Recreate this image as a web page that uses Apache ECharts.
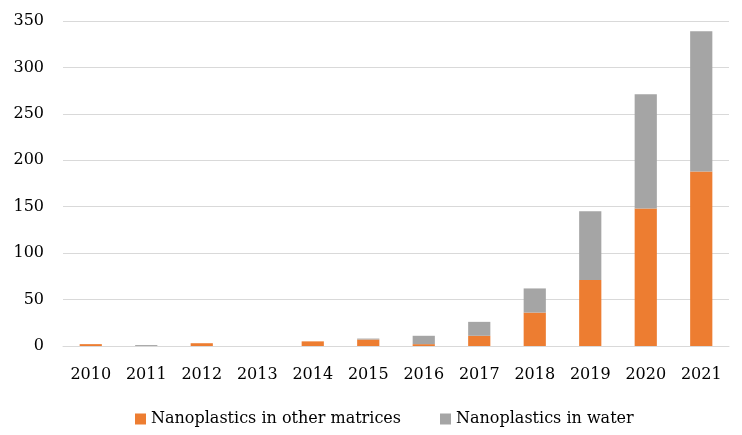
<!DOCTYPE html>
<html><head><meta charset="utf-8">
<script src="https://cdn.jsdelivr.net/npm/echarts@6/dist/echarts.min.js"></script>
<style>html,body{margin:0;padding:0;background:#fff}#c{width:742px;height:435px}</style>
</head><body><div id="c"></div>
<script>
const years = ['2010','2011','2012','2013','2014','2015','2016','2017','2018','2019','2020','2021'];
const otherMatrices = [2, 0, 3, 0, 5, 7, 2, 11, 36, 71, 148, 188];
const water = [0, 1, 0, 0, 0, 1, 9, 15, 26, 74, 123, 151];
const yTicks = {min: 0, max: 350, interval: 50};

const font = 'DejaVu Serif';
const chart = echarts.init(document.getElementById('c'));
chart.setOption({
  animation: false,
  textStyle: {fontFamily: font},
  grid: {left: 63, right: 13, top: 21, bottom: 89},
  legend: {
    top: 406, left: 130,
    itemWidth: 11, itemHeight: 11, itemGap: 39,
    icon: 'rect',
    textStyle: {fontFamily: font, fontSize: 16, color: '#000'},
    data: ['Nanoplastics in other matrices', 'Nanoplastics in water']
  },
  xAxis: {
    type: 'category', data: years,
    axisLine: {lineStyle: {color: '#D9D9D9'}},
    axisTick: {show: false},
    axisLabel: {color: '#000', fontSize: 16, fontFamily: font, margin: 21}
  },
  yAxis: {
    type: 'value', min: yTicks.min, max: yTicks.max, interval: yTicks.interval,
    axisLine: {show: false}, axisTick: {show: false},
    splitLine: {lineStyle: {color: '#D9D9D9'}},
    axisLabel: {color: '#000', fontSize: 16, fontFamily: font, margin: 19}
  },
  series: [
    {name: 'Nanoplastics in other matrices', type: 'bar', stack: 's', data: otherMatrices,
     barWidth: '40%', itemStyle: {color: '#ED7D31'}},
    {name: 'Nanoplastics in water', type: 'bar', stack: 's', data: water,
     barWidth: '40%', itemStyle: {color: '#A5A5A5'}}
  ]
});
</script></body></html>
